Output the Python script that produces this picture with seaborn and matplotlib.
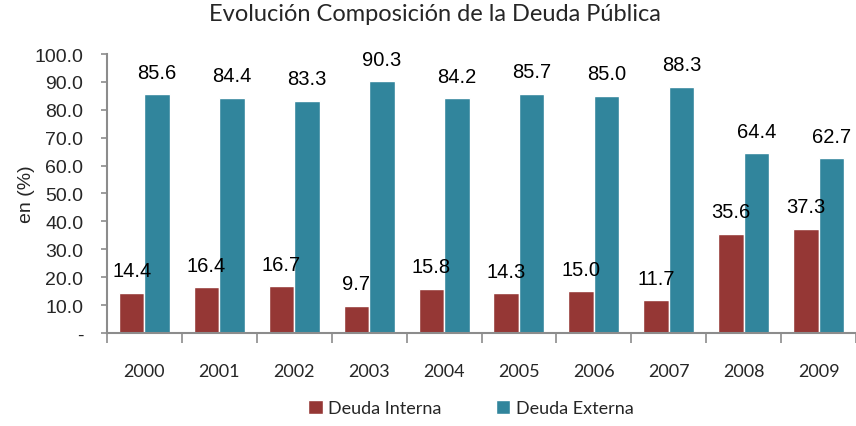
import pandas as pd
import seaborn as sns
import matplotlib.pyplot as plt
from matplotlib.ticker import FixedLocator

anios = ["2000", "2001", "2002", "2003", "2004", "2005", "2006", "2007", "2008", "2009"]
deuda_interna = [14.4, 16.4, 16.7, 9.7, 15.8, 14.3, 15.0, 11.7, 35.6, 37.3]
deuda_externa = [85.6, 84.4, 83.3, 90.3, 84.2, 85.7, 85.0, 88.3, 64.4, 62.7]
series = ["Deuda Interna", "Deuda Externa"]
colores = ["#953735", "#31859C"]

df = pd.DataFrame({
    "anio": anios * 2,
    "valor": deuda_interna + deuda_externa,
    "serie": [series[0]] * len(anios) + [series[1]] * len(anios),
})

sns.set_style("white")
fig = plt.figure(figsize=(8.56, 4.27), dpi=100)
ax = fig.add_axes([0.125, 0.218, 0.875, 0.653])

sns.barplot(data=df, x="anio", y="valor", hue="serie", palette=colores,
            saturation=1, width=0.68, gap=0, ax=ax, legend=True)

for cont in ax.containers:
    ax.bar_label(cont, fmt="%.1f", padding=9, fontsize=14.5,
                 family="Liberation Sans", color="black")

ax.set_ylim(0, 100)
ax.set_xlim(-0.5, len(anios) - 0.5)
ax.set_yticks(range(0, 101, 10))
ax.set_yticklabels(["-"] + [f"{v:.1f}" for v in range(10, 101, 10)],
                   family="Liberation Sans", fontsize=14)
ax.tick_params(axis="y", left=True, length=4, width=1.2, color="#8c8c8c", pad=13)

ax.xaxis.set_minor_locator(FixedLocator([i - 0.5 for i in range(len(anios) + 1)]))
ax.tick_params(axis="x", which="major", length=0, pad=22)
ax.tick_params(axis="x", which="minor", bottom=True, length=7, width=1.2, color="#8c8c8c")
for t in ax.get_xticklabels():
    t.set_family("Lato")
    t.set_fontsize(13)

ax.set_xlabel("")
ax.set_ylabel("en (%)", family="Liberation Sans", fontsize=14, labelpad=0)

for s in ["top", "right"]:
    ax.spines[s].set_visible(False)
for s in ["left", "bottom"]:
    ax.spines[s].set_color("#8c8c8c")
    ax.spines[s].set_linewidth(1.5)

fig.suptitle("Evolución Composición de la Deuda Pública", family="Lato",
             fontsize=17, x=0.508, y=0.99)

ax.get_legend().remove()
h, l = ax.get_legend_handles_labels()
fig.legend(h, l, loc="lower center", bbox_to_anchor=(0.55, -0.015), ncol=2,
           frameon=False, prop={"family": "Lato", "size": 13},
           handlelength=0.8, handleheight=0.8, columnspacing=3.0, handletextpad=0.3)

fig.savefig("out.png", dpi=100)
